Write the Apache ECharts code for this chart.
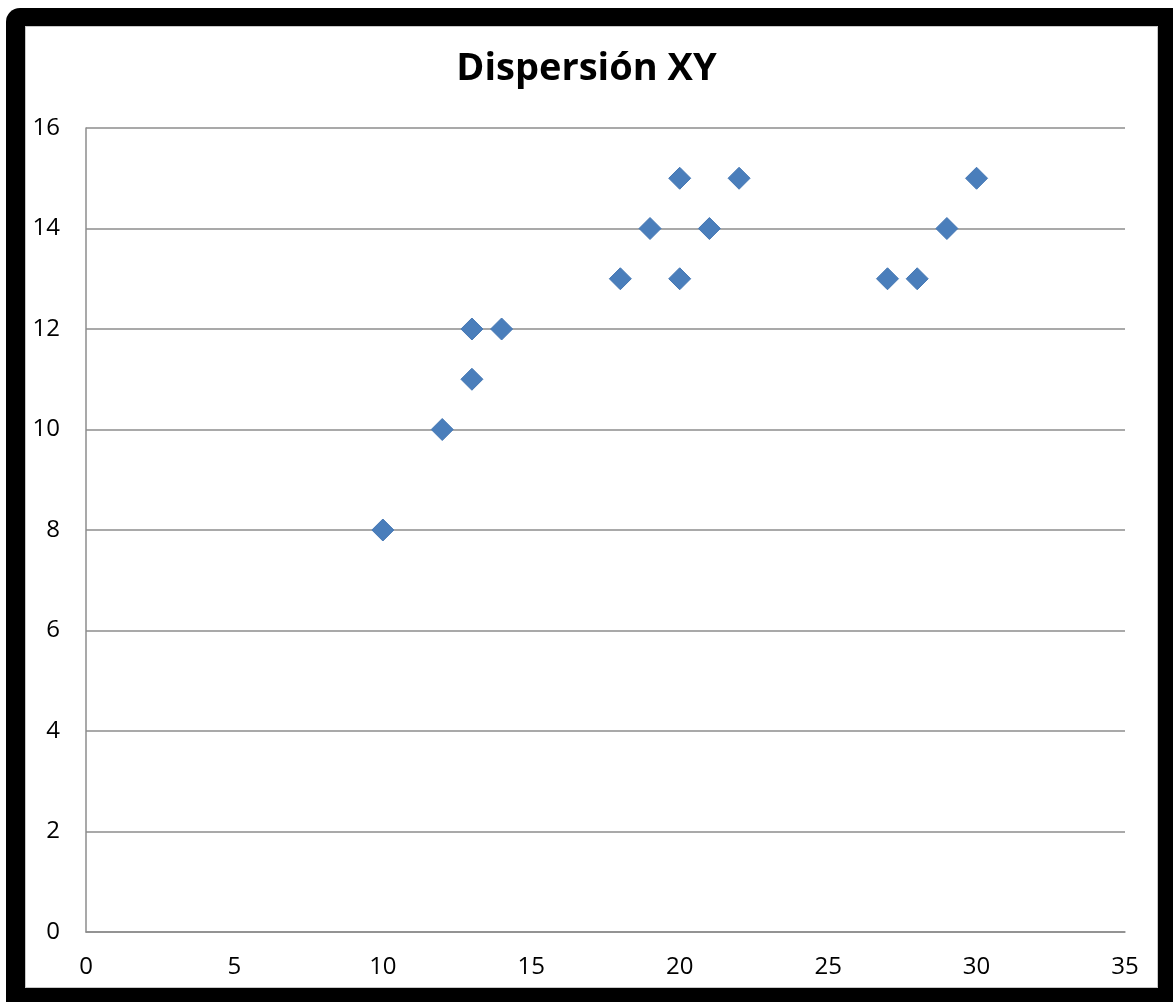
<!DOCTYPE html>
<html>
<head>
<meta charset="utf-8">
<script src="https://cdn.jsdelivr.net/npm/echarts@6/dist/echarts.min.js"></script>
<style>
  html, body { margin: 0; padding: 0; background: #fff; width: 1173px; height: 1002px; overflow: hidden; }
  #frame { position: absolute; left: 6px; top: 8px; width: 1200px; height: 1030px; background: #000; border-top-left-radius: 14px; }
  #inner { position: absolute; left: 25px; top: 26px; width: 1133px; height: 962px; background: #fff; box-sizing: border-box; border: 1px solid #c8c8c8; }
  #chart { position: absolute; left: 0; top: 0; width: 1173px; height: 1002px; }
</style>
</head>
<body>
<div id="frame"></div>
<div id="inner"></div>
<div id="chart"></div>
<script>
const titleText = 'Dispersión XY';
const xValues = [10, 12, 13, 13, 14, 18, 19, 20, 20, 21, 22, 27, 28, 29, 30];
const yValues = [8, 10, 11, 12, 12, 13, 14, 15, 13, 14, 15, 13, 13, 14, 15];
const xTicks = { min: 0, max: 35, interval: 5 };
const yTicks = { min: 0, max: 16, interval: 2 };

const points = xValues.map((x, i) => [x, yValues[i]]);
const font = '"Open Sans", "DejaVu Sans", sans-serif';

const chart = echarts.init(document.getElementById('chart'), null, { renderer: 'canvas' });
chart.setOption({
  animation: false,
  backgroundColor: 'transparent',
  title: {
    text: titleText,
    left: 'center',
    top: 45,
    textStyle: { fontFamily: font, fontSize: 38, fontWeight: 'bold', color: '#000' }
  },
  grid: { left: 86, right: 48, top: 128, bottom: 70, containLabel: false },
  xAxis: {
    type: 'value',
    min: xTicks.min, max: xTicks.max, interval: xTicks.interval,
    axisLine: { show: true, lineStyle: { color: '#8c8c8c', width: 1.5 } },
    axisTick: { show: false },
    splitLine: { show: false },
    axisLabel: { margin: 23, fontFamily: font, fontSize: 24, color: '#000' }
  },
  yAxis: {
    type: 'value',
    min: yTicks.min, max: yTicks.max, interval: yTicks.interval,
    axisLine: { show: true, lineStyle: { color: '#8c8c8c', width: 1.5 } },
    axisTick: { show: false },
    splitLine: { show: true, lineStyle: { color: '#8c8c8c', width: 1.5 } },
    axisLabel: { margin: 26, fontFamily: font, fontSize: 24, color: '#000' }
  },
  series: [{
    type: 'scatter',
    data: points,
    symbol: 'diamond',
    symbolSize: [22, 22],
    itemStyle: { color: '#4a7ebb', borderColor: '#4577b3', borderWidth: 1, opacity: 1 }
  }]
});
</script>
</body>
</html>
